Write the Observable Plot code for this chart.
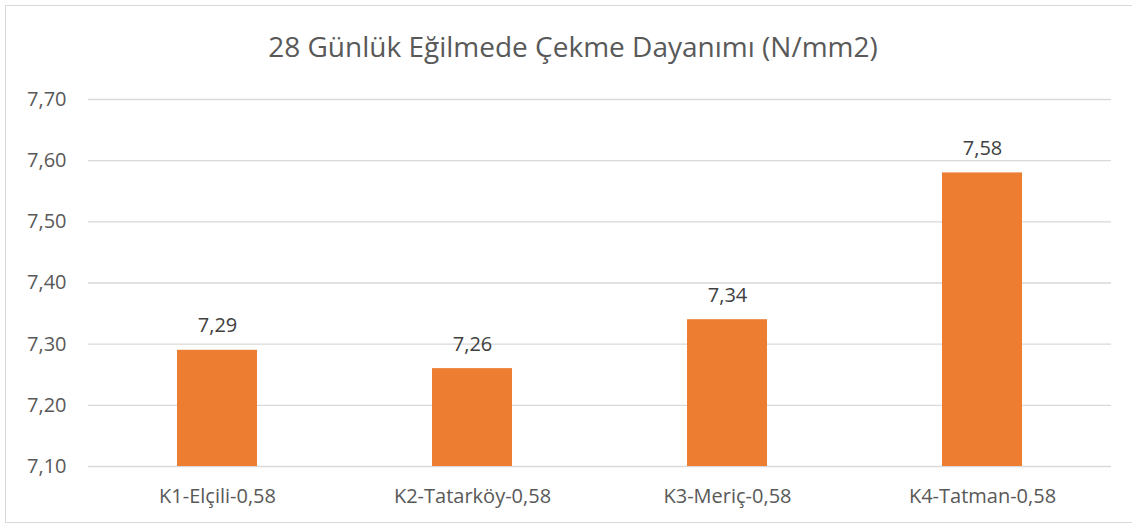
<!DOCTYPE html>
<html><head><meta charset="utf-8">
<script src="https://cdn.jsdelivr.net/npm/d3@7"></script>
<script src="https://cdn.jsdelivr.net/npm/@observablehq/plot@0.6"></script>
<style>
body{margin:0;background:#fff;font-family:"Open Sans",sans-serif;}
#wrap{position:relative;width:1132px;height:525px;overflow:hidden;}
#frame{position:absolute;left:5px;top:5px;width:1130px;height:518px;border:1px solid #d9d9d9;box-sizing:border-box;}
#title{position:absolute;top:28px;left:0;width:1146px;text-align:center;font-size:28px;color:#595959;line-height:36px;}
#chart{position:absolute;left:0;top:80px;}
</style></head>
<body><div id="wrap"><div id="frame"></div><div id="title">28 Günlük Eğilmede Çekme Dayanımı (N/mm2)</div><div id="chart"></div></div>
<script>
const categories = ["K1-Elçili-0,58","K2-Tatarköy-0,58","K3-Meriç-0,58","K4-Tatman-0,58"];
const values = [7.29, 7.26, 7.34, 7.58];
const yTicks = [7.1, 7.2, 7.3, 7.4, 7.5, 7.6, 7.7];
const data = categories.map((c,i)=>({cat:c, v:values[i]}));
const fmt = d => d.toFixed(2).replace(".", ",");
const base = 7.1;
const plot = Plot.plot({
  width: 1132, height: 445,
  marginTop: 19, marginBottom: 59, marginLeft: 88, marginRight: 21,
  style: {fontFamily: '"Open Sans", sans-serif', fontSize: "20px", color: "#595959", background: "transparent"},
  x: {domain: categories, paddingInner: 0.687, paddingOuter: 0.3435, label: null},
  y: {domain: [7.1, 7.7], label: null},
  marks: [
    Plot.gridY(yTicks, {stroke: "#d9d9d9", strokeOpacity: 1, strokeWidth: 1.3}),
    Plot.barY(data, {x: "cat", y1: () => base, y2: "v", fill: "#ED7D31"}),
    Plot.text(data, {x: "cat", y: "v", text: d => fmt(d.v), lineAnchor: "bottom", dy: -18, fill: "#404040", fontSize: 20}),
    Plot.axisY(yTicks, {tickSize: 0, tickPadding: 22, tickFormat: fmt, fill: "#595959", fontSize: 20}),
    Plot.axisX({tickSize: 0, tickPadding: 22, fill: "#595959", fontSize: 20})
  ]
});
document.getElementById("chart").appendChild(plot);
</script></body></html>
